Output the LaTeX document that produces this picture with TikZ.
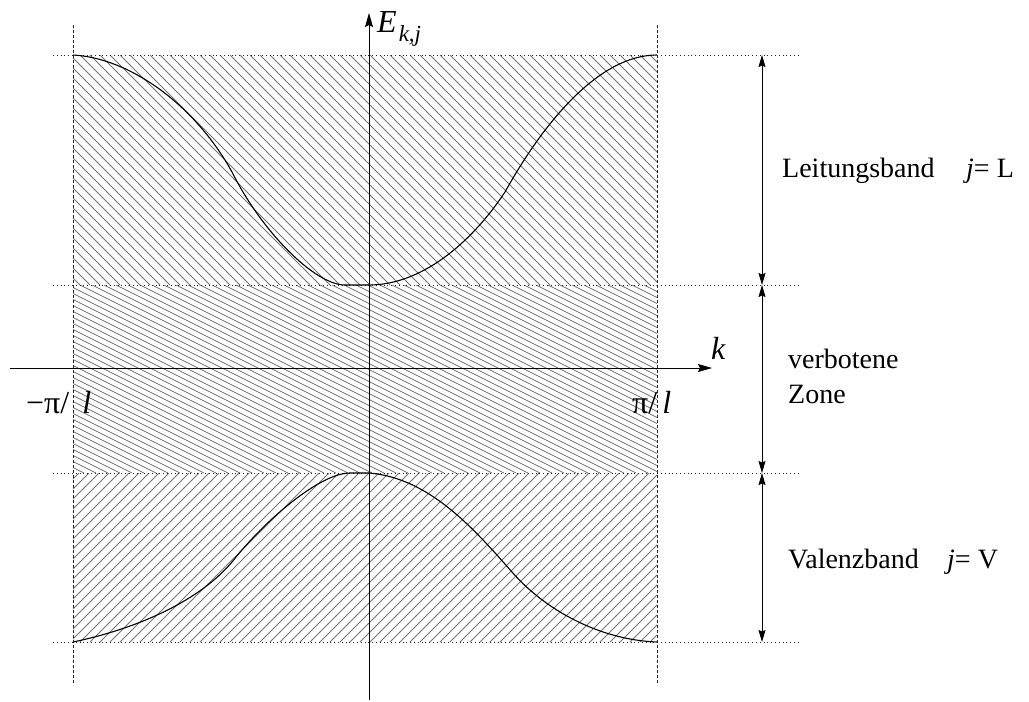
\documentclass[tikz,border=0pt]{standalone}
\usepackage{fontspec}
\setmainfont{Liberation Serif}
\usetikzlibrary{arrows.meta}
\begin{document}
\begin{tikzpicture}[x=1pt,y=-1pt,
  hatchline/.style={black!55, line width=0.75pt},
  guide/.style={line width=0.7pt, dash pattern=on 0.8pt off 3pt, black!85},
  boundary/.style={line width=0.7pt, dash pattern=on 3pt off 2pt, black!85},
  axis/.style={line width=0.9pt, -{Stealth[length=14pt,width=8pt,inset=2pt]}},
  dimarrow/.style={line width=0.9pt, {Stealth[length=12pt,width=7pt,inset=1.5pt]}-{Stealth[length=12pt,width=7pt,inset=1.5pt]}},
  band/.style={line width=1.1pt},
  lbl/.style={inner sep=0pt, font=\fontsize{28}{34}\selectfont},
  mlbl/.style={inner sep=0pt, font=\fontsize{32}{38}\selectfont}]
\useasboundingbox (0,0) rectangle (1029,702);

% hatching
\begin{scope}
  \clip (73,55) rectangle (657,285);
  \foreach \c in {-240,-230,...,660} \draw[hatchline] (\c,55) -- ++(230,230);
\end{scope}
\begin{scope}
  \clip (73,285) rectangle (657,473);
  \foreach \c in {-400,-388,...,660} \draw[hatchline] (\c,285) -- ++(376,188);
\end{scope}
\begin{scope}
  \clip (73,473) rectangle (657,642);
  \foreach \c in {-100,-90,...,840} \draw[hatchline] (\c,642) -- ++(169,-169);
\end{scope}

% guides
\draw[guide] (53,55) -- (800,55);
\draw[guide] (53,285) -- (800,285);
\draw[guide] (53,473) -- (800,473);
\draw[guide] (53,642) -- (800,642);
\draw[boundary] (73,25) -- (73,685);
\draw[boundary] (657,25) -- (657,685);

% axes
\coordinate (ybot) at (369,700);
\coordinate (ytop) at (369,13);
\coordinate (xleft) at (10,368);
\coordinate (xright) at (712,368);
\draw[axis] (ybot) -- (ytop);
\draw[axis] (xleft) -- (xright);

% bands
\draw[band] (73,55) .. controls (130,58) and (195,105) .. (232,172)
  .. controls (262,232) and (315,285) .. (345,285) -- (369,285)
  .. controls (420,285) and (470,245) .. (505,192)
  .. controls (545,120) and (600,55) .. (657,55);
\draw[band] (73,642) .. controls (140,628) and (200,600) .. (232,562)
  .. controls (265,520) and (320,473) .. (350,473) -- (369,473)
  .. controls (430,478) and (475,530) .. (512,572)
  .. controls (545,610) and (600,640) .. (657,642);

% dimension arrows
\coordinate (d1) at (762,55);
\coordinate (d2) at (762,285);
\coordinate (d3) at (762,473);
\coordinate (d4) at (762,642);
\draw[dimarrow] (d1) -- (d2);
\draw[dimarrow] (d2) -- (d3);
\draw[dimarrow] (d3) -- (d4);

% labels
\node[mlbl, anchor=base west] (E) at (377,32) {\itshape E\kern2pt\raisebox{-9pt}{\fontsize{23}{26}\selectfont k,j}};
\node[mlbl, anchor=base west] (k) at (711,359) {\itshape k};
\node[mlbl, anchor=base west] (mpi) at (26,413) {−π/\hspace{13pt}\itshape l};
\node[mlbl, anchor=base west] (ppi) at (632,413) {π/\hspace{5pt}\itshape l};
\node[lbl, anchor=base west] (LB) at (782,177) {Leitungsband};
\node[lbl, anchor=base west] (LBj) at (966,177) {\itshape j\upshape= L};
\node[lbl, anchor=base west] (VZ1) at (788,368) {verbotene};
\node[lbl, anchor=base west] (VZ2) at (788,403) {Zone};
\node[lbl, anchor=base west] (VB) at (788,568) {Valenzband};
\node[lbl, anchor=base west] (VBj) at (947,568) {\itshape j\upshape= V};
\end{tikzpicture}
\end{document}
